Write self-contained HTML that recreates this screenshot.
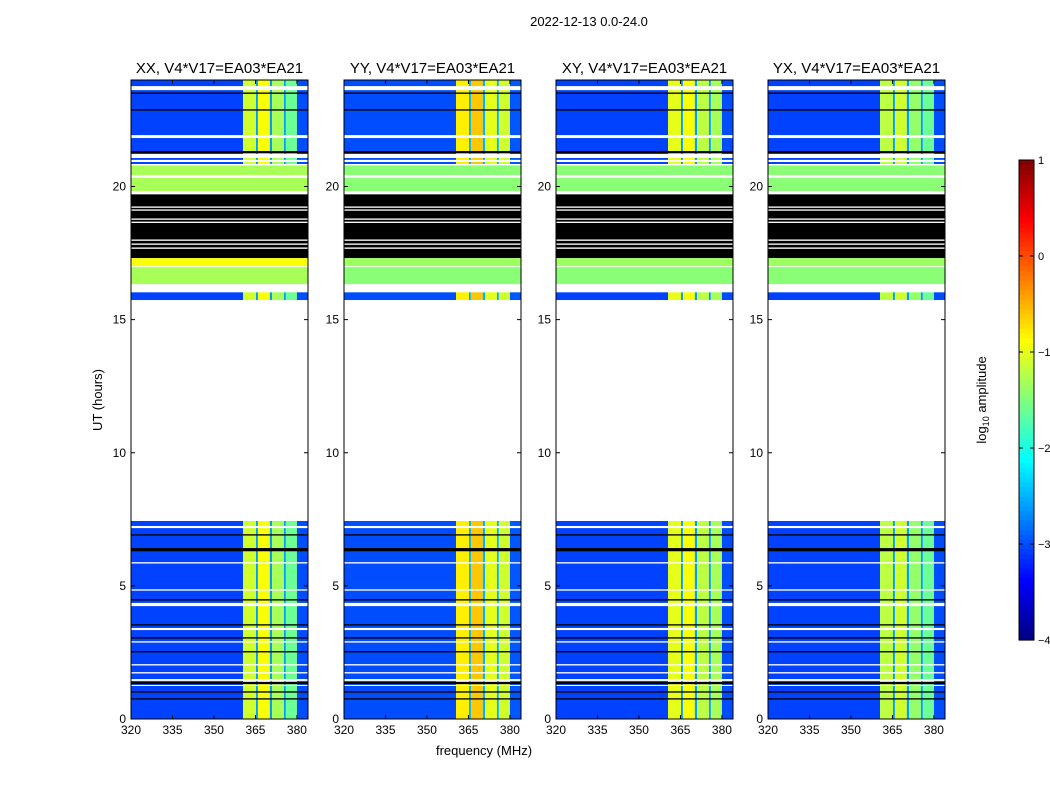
<!DOCTYPE html>
<html><head><meta charset="utf-8">
<style>
body{margin:0;background:#fff;font-family:"Liberation Sans",sans-serif;}
svg text{font-family:"Liberation Sans",sans-serif;}
</style></head>
<body>
<svg id="fig" width="1050" height="800" viewBox="0 0 1050 800" xmlns="http://www.w3.org/2000/svg">
<rect width="1050" height="800" fill="#fff"/>
<text x="589" y="26" font-size="13" text-anchor="middle">2022-12-13 0.0-24.0</text>
<text transform="translate(102,400) rotate(-90)" font-size="13" text-anchor="middle">UT (hours)</text>
<text x="484" y="755" font-size="13" text-anchor="middle">frequency (MHz)</text>
<g id="panels"></g>
<g id="cbar"></g>
</svg>
<script>
// ---- data ----
const panelTitles = ["XX, V4*V17=EA03*EA21","YY, V4*V17=EA03*EA21","XY, V4*V17=EA03*EA21","YX, V4*V17=EA03*EA21"];
const xTicks = [320,335,350,365,380];
const yTicks = [0,5,10,15,20];
const cbTicks = [1,0,-1,-2,-3,-4];
const cbTickLabels = ["1","0","\u22121","\u22122","\u22123","\u22124"];
// frequency columns (MHz)
const colLo = [320,360.5,365.2,365.9,370.2,371,375.3,376,380];
const colHi = [360.5,365.2,365.9,370.2,371,375.3,376,380,384];
// log10 amplitude per column per panel
const colValsXX = [-3.05,-1.1,-2.6,-0.9,-2.6,-1.3,-2.6,-1.6,-3.0];
const colValsYY = [-3.0,-0.8,-2.5,-0.6,-2.5,-1.0,-2.5,-1.1,-2.95];
const colValsXY = [-3.05,-1.0,-2.6,-0.9,-2.6,-1.2,-2.6,-1.3,-3.0];
const colValsYX = [-3.05,-1.2,-2.6,-1.1,-2.6,-1.4,-2.6,-1.6,-3.0];
// time segments (hours) and type: d=data, w=white(flagged), k=black, g=green flat, y=yellowish flat
const segLo = [0,15.73,20.84,19.83,20.43,17.31,16.33,20.80,16.97,17.01,15.70,7.44,
  23.62,23.48,22.85,21.82,21.25,21.07,20.92,20.80,20.32,19.71,
  19.20,19.09,18.75,18.63,17.96,17.81,17.66,16.03,
  7.17,6.89,6.30,5.84,4.82,4.45,4.24,3.51,3.34,3.02,2.87,2.50,2.01,1.71,1.43,1.31,1.24,0.99,0.73];
const segHi = [7.44,16.03,24,20.43,20.80,19.71,17.01,20.84,17.01,17.31,15.73,15.73,
  23.77,23.53,22.90,21.93,21.33,21.22,21.00,20.84,20.43,19.83,
  19.25,19.14,18.80,18.68,18.01,17.86,17.71,16.33,
  7.25,6.94,6.42,5.89,4.87,4.50,4.36,3.56,3.42,3.07,2.92,2.55,2.06,1.76,1.50,1.39,1.28,1.04,0.78];
const segType = ["d","d","d","g","g","k","g","w","w","y","w","w",
  "w","k","k","w","k","w","w","w","w","w",
  "w","w","w","w","w","w","w","w",
  "w","k","k","w","w","k","w","k","w","k","w","k","w","w","w","k","w","k","k"];
const greenVals = [-1.3,-1.45,-1.45,-1.45];
const yellowVals = [-0.9,-1.35,-1.35,-1.35];
// ---- layout ----
const panelX = [131,344,556,768], PW=177, PT=80, PB=719;
const NS="http://www.w3.org/2000/svg";
function el(tag,attrs,parent){const e=document.createElementNS(NS,tag);for(const k in attrs)e.setAttribute(k,attrs[k]);parent.appendChild(e);return e;}
function jet(v){const t=Math.max(0,Math.min(1,(v+4)/5));const c=x=>Math.round(255*Math.max(0,Math.min(1,1.5-Math.abs(4*t-x))));return `rgb(${c(3)},${c(2)},${c(1)})`;}
const yS=h=>PB-(h/24)*(PB-PT);
const allCols=[colValsXX,colValsYY,colValsXY,colValsYX];
const gP=document.getElementById('panels');
panelX.forEach((px,pi)=>{
  const xS=f=>px+(f-320)/(384-320)*PW;
  const g=el('g',{},gP);
  
  
  segLo.forEach((lo,si)=>{
    const hi=segHi[si],t=segType[si];
    const y1=yS(hi),y2=yS(lo);
    if(t==="d"){
      colLo.forEach((cl,ci)=>{
        const r=el('rect',{x:xS(cl),y:y1,width:xS(colHi[ci])-xS(cl),height:y2-y1,fill:jet(allCols[pi][ci])},g);
        
        
      });
    } else {
      const fill=t==="w"?"#fff":t==="k"?"#000":t==="g"?jet(greenVals[pi]):jet(yellowVals[pi]);
      const r=el('rect',{x:px,y:y1,width:PW,height:Math.max(1,y2-y1),fill:fill},g);
      
      
    }
  });
  const fr=el('rect',{x:px,y:PT,width:PW,height:PB-PT,fill:'none',stroke:'#000','stroke-width':1},g);
  
  
  const tt=el('text',{x:px+PW/2,y:PT-7,'font-size':15,'text-anchor':'middle'},g);
  tt.textContent=panelTitles[pi];
  
  
  xTicks.forEach(v=>{
    const x=xS(v);
    el('line',{x1:x,x2:x,y1:PB,y2:PB-4,stroke:'#000'},g);
    el('line',{x1:x,x2:x,y1:PT,y2:PT+4,stroke:'#000'},g);
    const t=el('text',{x:x,y:PB+15,'font-size':12,'text-anchor':'middle'},g);
    t.textContent=v;
    
    
  });
  yTicks.forEach(v=>{
    const y=yS(v);
    el('line',{x1:px,x2:px+4,y1:y,y2:y,stroke:'#000'},g);
    el('line',{x1:px+PW,x2:px+PW-4,y1:y,y2:y,stroke:'#000'},g);
    const t=el('text',{x:px-5,y:y+4,'font-size':12,'text-anchor':'end'},g);
    t.textContent=v;
    
    
  });
});
// colorbar
const gC=document.getElementById('cbar');
const CX=1019,CW=15,CT=160,CB=640;
const cyS=v=>CB-(v+4)/5*(CB-CT);
for(let i=0;i<100;i++){
  const v0=-4+i*0.05;
  const r=el('rect',{x:CX,y:cyS(v0+0.05),width:CW,height:(CB-CT)/100+0.6,fill:jet(v0+0.025)},gC);
  
  
}
const cf=el('rect',{x:CX,y:CT,width:CW,height:CB-CT,fill:'none',stroke:'#000'},gC);


cbTicks.forEach((v,i)=>{
  const y=cyS(v);
  el('line',{x1:CX,x2:CX+4,y1:y,y2:y,stroke:'#000'},gC);
  el('line',{x1:CX+CW,x2:CX+CW-4,y1:y,y2:y,stroke:'#000'},gC);
  const t=el('text',{x:CX+CW+4,y:y+4,'font-size':11},gC);
  t.textContent=cbTickLabels[i];
  
  
});
const cl=el('text',{transform:'translate(986,400) rotate(-90)','font-size':13,'text-anchor':'middle'},gC);
cl.innerHTML='log<tspan font-size="9" dy="3">10</tspan><tspan dy="-3"> amplitude</tspan>';


</script>
</body></html>
